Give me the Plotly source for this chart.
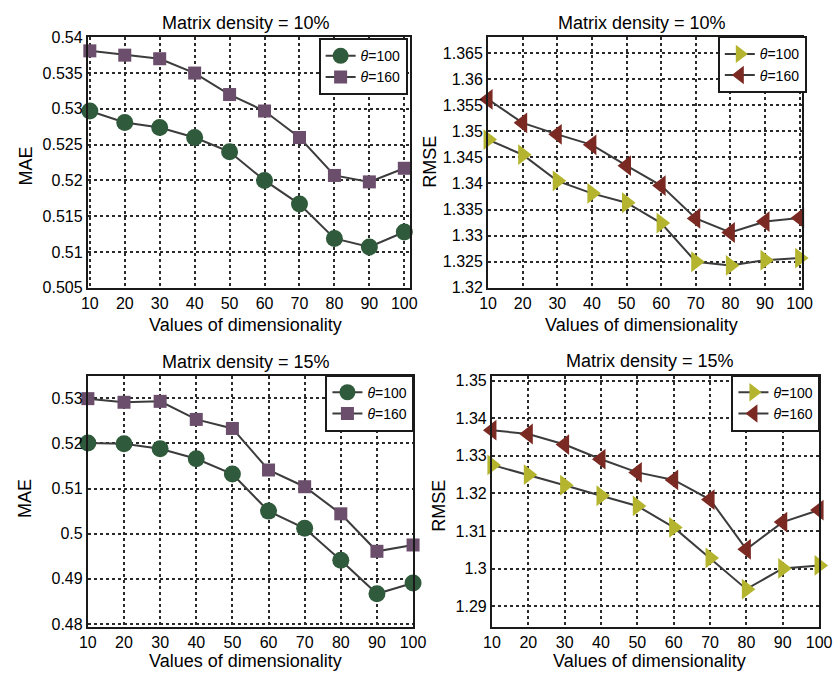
import plotly.graph_objects as go

# ---- data ----
dims = [10, 20, 30, 40, 50, 60, 70, 80, 90, 100]

mae10_t100 = [0.5297, 0.5281, 0.5274, 0.5260, 0.5240, 0.5200, 0.5167, 0.5119, 0.5107, 0.5128]
mae10_t160 = [0.5381, 0.5375, 0.5370, 0.5350, 0.5320, 0.5297, 0.5260, 0.5207, 0.5198, 0.5217]

rmse10_t100 = [1.3484, 1.3455, 1.3405, 1.3381, 1.3363, 1.3324, 1.3250, 1.3243, 1.3253, 1.3257]
rmse10_t160 = [1.3561, 1.3516, 1.3494, 1.3474, 1.3434, 1.3396, 1.3333, 1.3306, 1.3327, 1.3334]

mae15_t100 = [0.5201, 0.5199, 0.5188, 0.5166, 0.5132, 0.5050, 0.5012, 0.4941, 0.4867, 0.4891]
mae15_t160 = [0.5299, 0.5291, 0.5293, 0.5253, 0.5233, 0.5141, 0.5104, 0.5044, 0.4961, 0.4975]

rmse15_t100 = [1.3276, 1.3250, 1.3222, 1.3194, 1.3167, 1.3110, 1.3029, 1.2946, 1.3001, 1.3009]
rmse15_t160 = [1.3368, 1.3358, 1.3330, 1.3291, 1.3256, 1.3236, 1.3184, 1.3052, 1.3124, 1.3156]

mae10_ticks = [0.505, 0.51, 0.515, 0.52, 0.525, 0.53, 0.535, 0.54]
mae10_labels = ["0.505", "0.51", "0.515", "0.52", "0.525", "0.53", "0.535", "0.54"]
rmse10_ticks = [1.32, 1.325, 1.33, 1.335, 1.34, 1.345, 1.35, 1.355, 1.36, 1.365]
rmse10_labels = ["1.32", "1.325", "1.33", "1.335", "1.34", "1.345", "1.35", "1.355", "1.36", "1.365"]
mae15_ticks = [0.48, 0.49, 0.50, 0.51, 0.52, 0.53]
mae15_labels = ["0.48", "0.49", "0.5", "0.51", "0.52", "0.53"]
rmse15_ticks = [1.29, 1.30, 1.31, 1.32, 1.33, 1.34, 1.35]
rmse15_labels = ["1.29", "1.3", "1.31", "1.32", "1.33", "1.34", "1.35"]

panel_titles = ["Matrix density = 10%", "Matrix density = 10%",
                "Matrix density = 15%", "Matrix density = 15%"]
x_title = "Values of dimensionality"
legend_names = ["<i>θ</i>=100", "<i>θ</i>=160"]

# ---- style ----
W, H = 835, 683
FONT = "Liberation Sans, Arial, sans-serif"
LINE = "#3c3c3c"
GREEN = "#2f5a3b"
PURPLE = "#6a4e6b"
OLIVE = "#b4b42e"
RED = "#7a2a22"


def px(x):
    return x / W


def py(y):
    return 1 - y / H


fig = go.Figure()

# panel geometry (pixel boxes)
panels = [
    dict(x0=81, x1=412, y0=30, y1=287, xr=[9.44, 101.67], yr=[0.505, 0.54],
         yt=mae10_ticks, yl=mae10_labels, leg=(318, 31)),
    dict(x0=492, x1=814, y0=30, y1=287, xr=[10, 100.56], yr=[1.32, 1.368],
         yt=rmse10_ticks, yl=rmse10_labels, leg=(728, 29)),
    dict(x0=81, x1=415, y0=377, y1=635, xr=[10, 100], yr=[0.4793, 0.535],
         yt=mae15_ticks, yl=mae15_labels, leg=(325, 376)),
    dict(x0=496, x1=832, y0=377, y1=635, xr=[10, 100], yr=[1.2845, 1.3513],
         yt=rmse15_ticks, yl=rmse15_labels, leg=(742, 376)),
]

series = [
    (mae10_t100, mae10_t160, "circle", "square", GREEN, PURPLE, 17, 13),
    (rmse10_t100, rmse10_t160, "triangle-right", "triangle-left", OLIVE, RED, 18, 18),
    (mae15_t100, mae15_t160, "circle", "square", GREEN, PURPLE, 17, 13),
    (rmse15_t100, rmse15_t160, "triangle-right", "triangle-left", OLIVE, RED, 18, 18),
]

layout = dict(
    width=W, height=H, margin=dict(l=0, r=0, t=0, b=0),
    paper_bgcolor="white", plot_bgcolor="white",
    font=dict(family=FONT, color="black"),
    showlegend=True,
)

for i, (p, s) in enumerate(zip(panels, series)):
    n = "" if i == 0 else str(i + 1)
    xa, ya = "x" + n, "y" + n
    leg = "legend" + n
    v100, v160, sym100, sym160, c100, c160, sz100, sz160 = s
    for vals, sym, col, sz, name in [(v100, sym100, c100, sz100, legend_names[0]),
                                     (v160, sym160, c160, sz160, legend_names[1])]:
        fig.add_trace(go.Scatter(
            x=dims, y=vals, mode="lines+markers", name=name,
            xaxis=xa, yaxis=ya, legend=leg, cliponaxis=False,
            line=dict(color=LINE, width=2),
            marker=dict(symbol=sym, size=sz, color=col,
                        line=dict(width=0)),
        ))

    axis_common = dict(
        showline=True, mirror=True, linecolor="#1a1a1a", linewidth=2,
        showgrid=True, gridcolor="#2a2a2a", griddash="dot", gridwidth=1.5,
        zeroline=False, ticks="", tickfont=dict(size=16, family=FONT, color="black"),
    )
    layout["xaxis" + n] = dict(
        axis_common, domain=[px(p["x0"]), px(p["x1"])], range=p["xr"],
        tickvals=dims, ticktext=[str(d) for d in dims], anchor=ya,
    )
    layout["yaxis" + n] = dict(
        axis_common, domain=[py(p["y1"]), py(p["y0"])], range=p["yr"],
        tickvals=p["yt"], ticktext=p["yl"], anchor=xa,
    )
    layout[leg] = dict(
        x=px(p["leg"][0]), y=py(p["leg"][1]), xanchor="left", yanchor="top",
        bgcolor="white", bordercolor="#1a1a1a", borderwidth=2,
        font=dict(size=14, family=FONT, color="black"),
        tracegroupgap=0, itemsizing="trace",
    )

fig.update_layout(**layout)

# titles and axis labels
text_items = [
    (panel_titles[0], 243, 15, 0), (panel_titles[1], 650, 15, 0),
    (panel_titles[2], 243, 363, 0), (panel_titles[3], 658, 362, 0),
    (x_title, 243, 325, 0), (x_title, 650, 325, 0),
    (x_title, 243, 670, 0), (x_title, 658, 670, 0),
    ("MAE", 17, 162, -90), ("RMSE", 432, 158, -90),
    ("MAE", 17, 503, -90), ("RMSE", 442, 510, -90),
]
for txt, x, y, ang in text_items:
    fig.add_annotation(
        text=txt, x=px(x), y=py(y), xref="paper", yref="paper",
        xanchor="center", yanchor="middle", showarrow=False, textangle=ang,
        font=dict(size=18, family=FONT, color="black"),
    )

fig.write_html("out.html")
